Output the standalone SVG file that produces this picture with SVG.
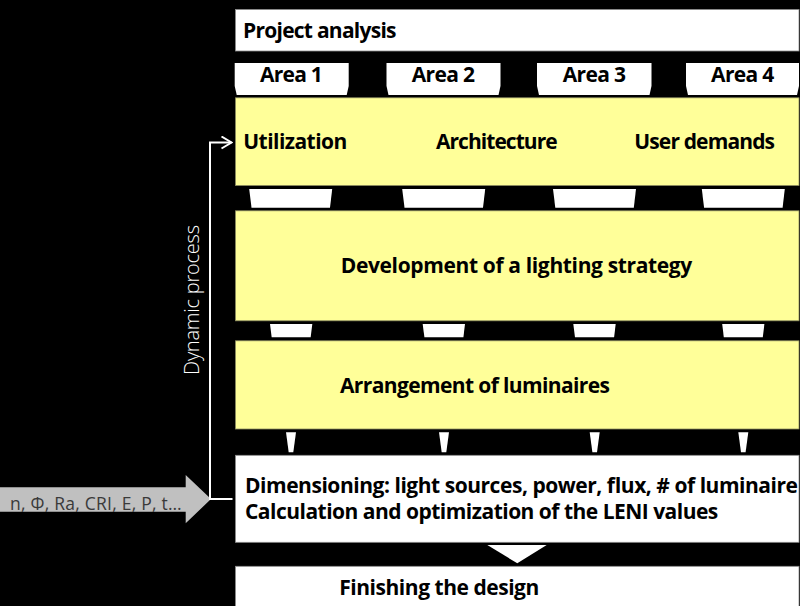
<svg xmlns="http://www.w3.org/2000/svg" width="800" height="606" viewBox="0 0 800 606">
<style>
.bg{fill:#000}
.wbox{fill:#fff;stroke:#8c8c8c;stroke-width:0.8}
.ybox{fill:#ffff99;stroke:#8c8c60;stroke-width:0.8}
.tab{fill:#fff}
.t{font-family:"Open Sans","Noto Sans","Liberation Sans",sans-serif;font-weight:bold;font-size:21px;fill:#000}
.tm{text-anchor:middle}
.side{font-family:"Open Sans","Noto Sans","Liberation Sans",sans-serif;font-weight:300;font-size:20px;fill:#fff}
.inp{font-family:"Open Sans","Noto Sans","Liberation Sans",sans-serif;font-weight:normal;font-size:17.5px;fill:#3a3a3a}
.conn{fill:none;stroke:#fff;stroke-width:2}
</style>
<defs>
<marker id="chev" viewBox="0 0 12 14" refX="11" refY="7" markerWidth="12" markerHeight="14" markerUnits="userSpaceOnUse" orient="auto">
<path d="M1,1 L11,7 L1,13" fill="none" stroke="#fff" stroke-width="2"/>
</marker>
</defs>
<rect class="bg" x="0" y="0" width="800" height="606"/>

<g id="project-analysis">
<rect class="wbox" x="235.5" y="9.5" width="563.5" height="41.5"/>
<text class="t" x="243" y="38.3" textLength="153.5" lengthAdjust="spacing">Project analysis</text>
</g>

<g id="area-1">
<polygon class="tab" points="234.7,63 348.7,63 348.7,86 346.7,95 236.7,95 234.7,86"/>
<text class="t tm" x="291.4" y="82" textLength="62.7" lengthAdjust="spacing">Area 1</text>
</g>
<g id="area-2">
<polygon class="tab" points="386.5,63 500.5,63 500.5,86 498.5,95 388.5,95 386.5,86"/>
<text class="t tm" x="443.4" y="82" textLength="63.3" lengthAdjust="spacing">Area 2</text>
</g>
<g id="area-3">
<polygon class="tab" points="537,63 651.5,63 651.5,86 649.5,95 539,95 537,86"/>
<text class="t tm" x="594.4" y="82" textLength="63.3" lengthAdjust="spacing">Area 3</text>
</g>
<g id="area-4">
<polygon class="tab" points="686,63 799,63 799,86 797,95 688,95 686,86"/>
<text class="t tm" x="742.7" y="82" textLength="63.3" lengthAdjust="spacing">Area 4</text>
</g>

<g id="analysis-aspects">
<rect class="ybox" x="235.5" y="97.8" width="563.5" height="87.7"/>
<text class="t" x="243.3" y="149.3" textLength="104" lengthAdjust="spacing">Utilization</text>
<text class="t" x="436" y="149.3" textLength="121.7" lengthAdjust="spacing">Architecture</text>
<text class="t" x="634.3" y="149.3" textLength="140.7" lengthAdjust="spacing">User demands</text>
</g>

<g id="lighting-strategy">
<rect class="ybox" x="235.5" y="210.8" width="563.5" height="110"/>
<text class="t" x="340.7" y="272.7" textLength="351.6" lengthAdjust="spacing">Development of a lighting strategy</text>
</g>

<g id="luminaire-arrangement">
<rect class="ybox" x="235.5" y="340.8" width="563.5" height="88.2"/>
<text class="t" x="340" y="392.7" textLength="270" lengthAdjust="spacing">Arrangement of luminaires</text>
</g>

<g id="dimensioning">
<rect class="wbox" x="235.5" y="455.3" width="563.5" height="87"/>
<text class="t" x="245" y="493.3" textLength="553" lengthAdjust="spacing">Dimensioning: light sources, power, flux, # of luminaire</text>
<text class="t" x="245" y="519" textLength="473.3" lengthAdjust="spacing">Calculation and optimization of the LENI values</text>
</g>

<g id="finishing">
<rect class="wbox" x="235.5" y="566.3" width="563.5" height="45"/>
<text class="t" x="339.3" y="595" textLength="200" lengthAdjust="spacing">Finishing the design</text>
</g>

<g id="input-parameters">
<polygon fill="#c0c0c0" points="0,487.3 185.7,487.3 185.7,475 211,499 185.7,523.3 185.7,511.7 0,511.7"/>
<text class="inp" x="10" y="509.5" textLength="171.7" lengthAdjust="spacing">n, Φ, Ra, CRI, E, P, t…</text>
</g>

<g id="dynamic-process-label">
<text class="side" transform="translate(199,375) rotate(-90)" textLength="150" lengthAdjust="spacing">Dynamic process</text>
</g>

<g id="connectors">
<g fill="#fff">
<polygon points="249.2,189 332.2,189 330,207.7 251.5,207.7"/>
<polygon points="402.2,189 485.2,189 483,207.7 404.5,207.7"/>
<polygon points="553,189 636,189 633.8,207.7 555.3,207.7"/>
<polygon points="701.8,189 784.8,189 782.6,207.7 704.1,207.7"/>
<polygon points="270,324 312.3,324 310.7,337.3 271.7,337.3"/>
<polygon points="422.7,324 465,324 463.4,337.3 424.4,337.3"/>
<polygon points="573.3,324 615.7,324 614.1,337.3 575,337.3"/>
<polygon points="722.2,324 764.4,324 762.8,337.3 723.8,337.3"/>
<polygon points="286,432.3 296,432.3 293.3,452.3 288.7,452.3"/>
<polygon points="439,432.3 449,432.3 446.3,452.3 441.7,452.3"/>
<polygon points="589.7,432.3 599.7,432.3 597,452.3 592.4,452.3"/>
<polygon points="738.3,432.3 748.3,432.3 745.6,452.3 741,452.3"/>
<polygon points="487.3,545 546.7,545 517.3,563.3"/>
</g>
<path class="conn" d="M232.5,499 H210 V142.5 H231.5" marker-end="url(#chev)"/>
</g>
</svg>
